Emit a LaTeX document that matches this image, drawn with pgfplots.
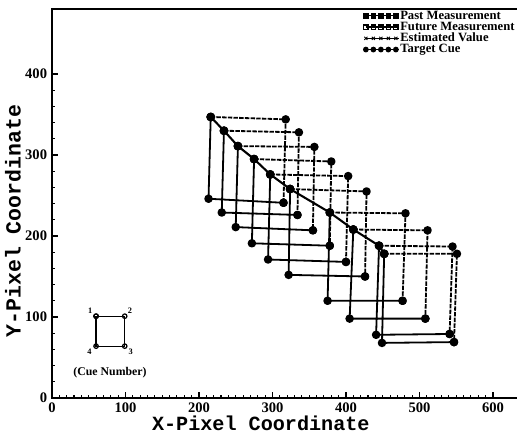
\documentclass[border=0pt]{standalone}
\usepackage{fontspec}
\setmainfont{Liberation Serif}
\newfontfamily\labelfont{Liberation Mono}
\usepackage{pgfplots}
\pgfplotsset{compat=1.18}

\begin{document}
\begin{tikzpicture}
\begin{axis}[
  scale only axis,
  width=338.7pt, height=279.9pt,
  xmin=0, xmax=640, ymin=0, ymax=480,
  xtick={0,100,...,600}, ytick={0,100,...,400},
  minor x tick num=9, minor y tick num=4,
  xtick pos=bottom, ytick pos=left,
  tick align=inside,
  major tick length=4pt, minor tick length=2.2pt,
  every tick/.append style={black, line width=0.8pt},
  axis line style={line width=1.1pt},
  ticklabel style={font=\bfseries\fontsize{10.5}{12}\selectfont},
  /pgf/number format/assume math mode=true,
  xlabel={X-Pixel Coordinate},
  ylabel={Y-Pixel Coordinate},
  xlabel style={font=\labelfont\bfseries\fontsize{14.5}{16}\selectfont,
    at={(axis description cs:0.444,-0.064)}, anchor=center},
  ylabel style={font=\labelfont\bfseries\fontsize{15.5}{17}\selectfont,
    at={(axis description cs:-0.083,0.455)}, anchor=center},
  legend style={at={(axis description cs:0.662,1.0)}, anchor=north west, yshift=-0.5pt,
    draw=none, fill=none, inner sep=0pt, row sep=0pt,
    nodes={inner sep=0.3pt, text height=6.2pt, text depth=1.3pt},
    font=\bfseries\fontsize{9.1}{10}\selectfont},
  legend cell align=left,
  legend image code/.code={\path (0pt,0pt) -- (24pt,0pt);
    \draw[#1] plot coordinates {(0pt,0pt) (5.4pt,0pt) (10.8pt,0pt) (16.2pt,0pt) (21.6pt,0pt)};},
]

% legend samples
\addlegendimage{black, line width=0.9pt, mark=square*, mark size=1.5pt}
\addlegendentry{Past Measurement}
\addlegendimage{black, line width=0.9pt, mark=square, mark size=1.5pt}
\addlegendentry{Future Measurement}
\addlegendimage{black, line width=0.6pt, mark=x, mark size=1.6pt}
\addlegendentry{Estimated Value}
\addlegendimage{black, line width=0.9pt, mark=*, mark size=1.6pt}
\addlegendentry{Target Cue}

% measured corners: cue 1 -> 4 -> 3 (solid)
\addplot[forget plot, black, line width=1.3pt, line join=round, mark=*, mark size=2.4pt,
  unbounded coords=jump] coordinates {
  (216,347) (213,246) (315,241) (nan,nan)
  (234,330) (231,229) (334,226) (nan,nan)
  (253,311) (250,211) (355,207) (nan,nan)
  (275,295) (272,191) (378,188) (nan,nan)
  (297,276) (294,171) (400,168) (nan,nan)
  (324,258) (322,152) (426,150) (nan,nan)
  (378,229) (375,120) (477,120) (nan,nan)
  (410,208) (405,98) (508,98) (nan,nan)
  (445,188) (441,78) (541,79) (nan,nan)
  (452,178) (449,68) (547,69)
};

% measured corners: cue 1 -> 2 -> 3 (dashed)
\addplot[forget plot, black, line width=1.3pt, line join=round, dash pattern=on 3.2pt off 0.9pt,
  mark=*, mark size=2.4pt, every mark/.append style={solid},
  unbounded coords=jump] coordinates {
  (216,347) (318,344) (315,241) (nan,nan)
  (234,330) (336,328) (334,226) (nan,nan)
  (253,311) (357,310) (355,207) (nan,nan)
  (275,295) (380,292) (378,188) (nan,nan)
  (297,276) (403,274) (400,168) (nan,nan)
  (324,258) (428,255) (426,150) (nan,nan)
  (378,229) (481,228) (477,120) (nan,nan)
  (410,208) (511,207) (508,98) (nan,nan)
  (445,188) (545,187) (541,79) (nan,nan)
  (452,178) (551,178) (547,69)
};

% target cue path
\addplot[forget plot, black, line width=1.5pt, line join=round, mark=*, mark size=2.4pt] coordinates {
  (216,347) (234,330) (253,311) (275,295) (297,276) (324,258)
  (378,229) (410,208) (445,188) (452,178)
};

% cue numbering sketch
\addplot[forget plot, black, line width=0.9pt, mark=o, mark size=1.6pt,
  mark options={fill=white}] coordinates {
  (60,101) (99,101) (99,64) (60,64) (60,101)
};
\node[font=\bfseries\fontsize{6}{7}\selectfont] at (axis cs:52,108) {1};
\node[font=\bfseries\fontsize{6}{7}\selectfont] at (axis cs:106,108) {2};
\node[font=\bfseries\fontsize{6}{7}\selectfont] at (axis cs:51,57) {4};
\node[font=\bfseries\fontsize{6}{7}\selectfont] at (axis cs:107,57) {3};
\node[font=\bfseries\fontsize{8.5}{10}\selectfont] at (axis cs:79,31) {(Cue Number)};

\coordinate (bbsw) at (axis cs:-70.7,-46.9);
\coordinate (bbne) at (axis cs:632.7,491.4);
\end{axis}
\pgfresetboundingbox
\useasboundingbox (bbsw) rectangle (bbne);
\end{tikzpicture}
\end{document}
